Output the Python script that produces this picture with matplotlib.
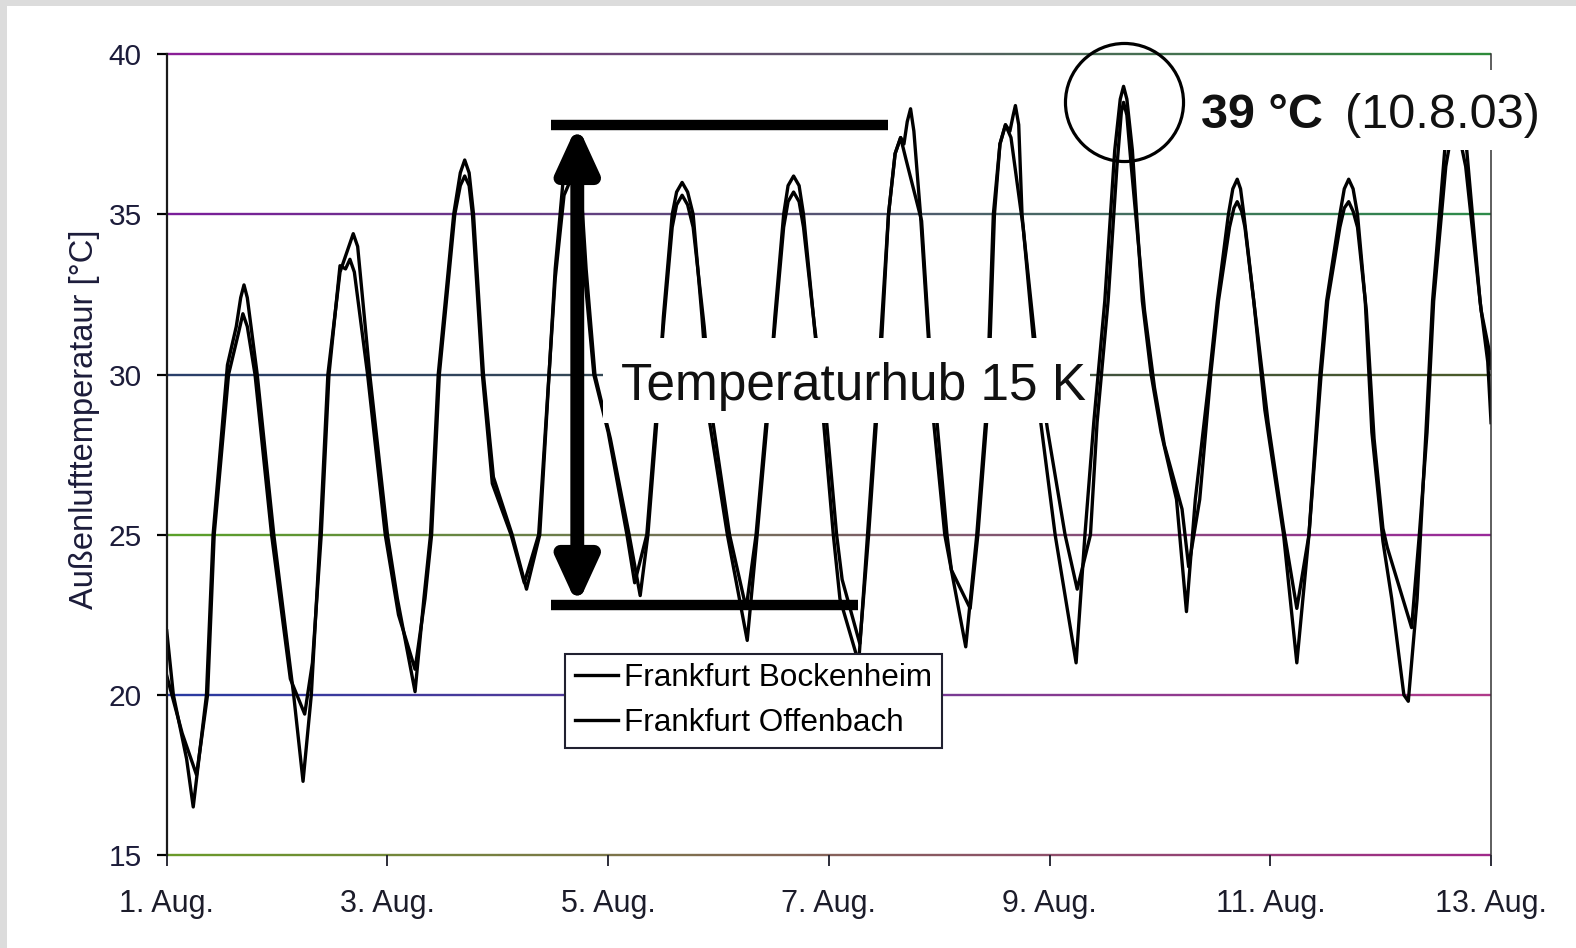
import numpy as np
import matplotlib.pyplot as plt
from matplotlib.collections import LineCollection
from matplotlib.colors import LinearSegmentedColormap
from matplotlib.patches import Rectangle

plt.rcParams['font.family'] = ['Liberation Sans', 'DejaVu Sans']

# time in days since 1 Aug 00:00, temperature in degC
t_bockenheim = [0.00, 0.14, 0.27, 0.37, 0.43, 0.56, 0.65, 0.69, 0.73, 0.80, 0.95, 1.12, 1.25,
                1.32, 1.40, 1.47, 1.57, 1.62, 1.66, 1.70, 1.82, 1.98, 2.10, 2.25,
                2.34, 2.40, 2.47, 2.61, 2.66, 2.70, 2.74, 2.77, 2.86, 2.95, 3.12, 3.24,
                3.37, 3.52, 3.60, 3.65, 3.70, 3.75, 3.79, 3.87, 4.00, 4.17, 4.24,
                4.35, 4.43, 4.50, 4.58, 4.62, 4.67, 4.72, 4.77, 4.87, 4.95, 5.10, 5.25,
                5.34, 5.43, 5.51, 5.59, 5.63, 5.68, 5.73, 5.77, 5.87, 5.98, 6.07, 6.12, 6.28,
                6.36, 6.43, 6.48, 6.54, 6.60, 6.65, 6.70, 6.84, 6.91, 6.98, 7.07, 7.11, 7.28,
                7.35, 7.44, 7.50, 7.55, 7.60, 7.65, 7.76, 7.87, 7.98, 8.14, 8.25,
                8.37, 8.43, 8.53, 8.61, 8.65, 8.67, 8.70, 8.74, 8.86, 8.95, 9.04, 9.20, 9.26,
                9.36, 9.46, 9.53, 9.63, 9.67, 9.70, 9.74, 9.77, 9.86, 9.98, 10.12, 10.24,
                10.35, 10.46, 10.52, 10.63, 10.67, 10.71, 10.75, 10.79, 10.87, 10.94, 11.02, 11.06, 11.28,
                11.35, 11.42, 11.48, 11.59, 11.64, 11.67, 11.71, 11.77, 11.91, 11.98, 12.00]
temp_bockenheim = [20.6, 18.8, 17.5, 20.0, 25.0, 30.0, 31.3, 31.9, 31.5, 30.0, 25.0, 20.5, 19.4,
                   21.0, 25.0, 30.0, 33.4, 33.3, 33.6, 33.2, 30.0, 25.0, 22.5, 20.8,
                   23.0, 25.0, 30.0, 35.0, 35.9, 36.2, 35.9, 35.0, 30.0, 26.6, 25.0, 23.5,
                   25.0, 33.0, 35.6, 36.0, 36.0, 35.5, 33.0, 30.0, 28.2, 25.0, 23.5,
                   25.0, 28.5, 31.5, 34.6, 35.3, 35.6, 35.3, 34.6, 31.5, 28.5, 25.0, 22.7,
                   25.0, 28.5, 31.5, 34.6, 35.4, 35.7, 35.4, 34.6, 31.5, 28.5, 25.0, 23.6, 21.6,
                   25.0, 28.5, 31.2, 35.0, 36.9, 37.4, 36.7, 34.8, 31.0, 28.5, 25.0, 23.9, 22.7,
                   25.0, 29.0, 35.0, 37.2, 37.8, 37.4, 34.6, 31.0, 28.3, 25.0, 23.3,
                   25.0, 28.5, 32.3, 36.5, 38.2, 38.5, 38.1, 36.5, 32.0, 29.6, 27.8, 25.8, 24.0,
                   26.1, 30.0, 32.3, 34.6, 35.2, 35.4, 35.1, 34.6, 32.0, 28.5, 25.2, 22.7,
                   25.0, 30.0, 32.3, 34.6, 35.2, 35.4, 35.1, 34.6, 32.0, 28.0, 25.2, 24.6, 22.1,
                   25.0, 28.2, 32.3, 36.5, 37.5, 37.8, 37.5, 36.5, 32.0, 30.8, 30.2]

t_offenbach = [0.00, 0.06, 0.18, 0.24, 0.36, 0.42, 0.55, 0.63, 0.67, 0.70, 0.73, 0.82, 0.97, 1.15, 1.235,
               1.31, 1.39, 1.46, 1.57, 1.65, 1.69, 1.73, 1.84, 2.00, 2.09, 2.25,
               2.33, 2.39, 2.46, 2.60, 2.66, 2.70, 2.74, 2.78, 2.87, 2.96, 3.13, 3.26,
               3.38, 3.52, 3.59, 3.65, 3.70, 3.75, 3.80, 3.88, 4.02, 4.19, 4.29,
               4.36, 4.44, 4.50, 4.58, 4.62, 4.67, 4.72, 4.77, 4.85, 4.92, 5.08, 5.26,
               5.35, 5.44, 5.51, 5.59, 5.63, 5.68, 5.73, 5.77, 5.86, 5.95, 6.04, 6.10, 6.27,
               6.35, 6.42, 6.47, 6.54, 6.60, 6.65, 6.68, 6.71, 6.74, 6.77, 6.83, 6.90, 6.95, 7.05, 7.24,
               7.34, 7.43, 7.49, 7.55, 7.60, 7.64, 7.67, 7.69, 7.72, 7.75, 7.85, 7.92, 8.05, 8.24,
               8.32, 8.40, 8.50, 8.59, 8.64, 8.67, 8.70, 8.75, 8.84, 8.92, 9.01, 9.15, 9.24,
               9.32, 9.45, 9.52, 9.62, 9.66, 9.70, 9.73, 9.76, 9.85, 9.95, 10.12, 10.24,
               10.35, 10.45, 10.51, 10.63, 10.67, 10.71, 10.75, 10.79, 10.86, 10.92, 11.02, 11.10, 11.21, 11.25,
               11.33, 11.41, 11.47, 11.58, 11.64, 11.68, 11.72, 11.78, 11.90, 11.97, 12.00]
temp_offenbach = [22.0, 20.0, 18.0, 16.5, 20.0, 25.0, 30.3, 31.5, 32.4, 32.8, 32.4, 30.0, 25.0, 20.0, 17.3,
                  20.0, 25.0, 30.0, 33.2, 34.0, 34.4, 34.0, 30.0, 25.0, 23.0, 20.1,
                  23.0, 25.0, 30.0, 35.0, 36.3, 36.7, 36.3, 35.0, 30.0, 26.8, 25.0, 23.3,
                  25.0, 33.3, 36.0, 36.5, 36.6, 36.0, 33.3, 30.0, 28.0, 25.0, 23.1,
                  25.0, 28.5, 31.8, 35.0, 35.7, 36.0, 35.7, 35.0, 31.8, 28.5, 25.0, 21.7,
                  25.0, 28.5, 31.8, 35.0, 35.9, 36.2, 35.9, 35.0, 31.8, 28.6, 25.0, 23.0, 21.0,
                  25.0, 28.5, 31.2, 35.0, 36.9, 37.4, 37.2, 37.9, 38.3, 37.6, 35.0, 31.2, 28.5, 25.0, 21.5,
                  25.0, 29.0, 35.0, 37.2, 37.8, 37.6, 38.1, 38.4, 37.8, 35.0, 31.2, 28.5, 25.0, 21.0,
                  25.0, 28.5, 32.3, 37.0, 38.6, 39.0, 38.6, 37.0, 32.3, 30.0, 28.2, 26.1, 22.6,
                  26.1, 30.0, 32.3, 35.0, 35.8, 36.1, 35.8, 35.0, 32.3, 28.9, 25.0, 21.0,
                  25.0, 30.0, 32.3, 35.0, 35.8, 36.1, 35.8, 35.0, 32.3, 28.2, 24.8, 23.0, 20.0, 19.8,
                  23.0, 28.2, 32.3, 37.0, 38.2, 38.5, 38.2, 37.0, 32.3, 30.4, 28.5]

tick_days = [0, 2, 4, 6, 8, 10, 12]
tick_labels = ['1. Aug.', '3. Aug.', '5. Aug.', '7. Aug.', '9. Aug.', '11. Aug.', '13. Aug.']
y_ticks = [15, 20, 25, 30, 35, 40]

# scanned gridlines shift colour along their length
grid_colors = {
    40: ('#8a1e96', '#2e8b3a'),
    35: ('#7a1e9a', '#2e8b4a'),
    30: ('#2a3f6a', '#4a5a2a'),
    25: ('#5aa02a', '#9a2a9a'),
    20: ('#2a3aa0', '#b03a8a'),
    15: ('#6a9a2a', '#a02a8a'),
}

hub_top = 37.8
hub_bottom = 22.8
hub_x = 3.72

fig = plt.figure(figsize=(15.76, 9.48), dpi=100, facecolor='#dcdcdc')
fig.patches.append(Rectangle((7 / 1576, 0), 1, 1 - 6 / 948, transform=fig.transFigure,
                             facecolor='white', edgecolor='none', zorder=-1))
ax = fig.add_axes([0.1058, 0.0981, 0.8403, 0.8446])
ax.set_facecolor('none')

xs = np.linspace(0, 12, 61)
for y in y_ticks:
    c0, c1 = grid_colors[y]
    cmap = LinearSegmentedColormap.from_list('g', [c0, c1])
    segs = [[(xs[i], y), (xs[i + 1], y)] for i in range(len(xs) - 1)]
    lc = LineCollection(segs, colors=cmap(np.linspace(0, 1, len(segs))),
                        linewidths=1.7, zorder=1, clip_on=False)
    ax.add_collection(lc)

ax.plot(t_bockenheim, temp_bockenheim, color='black', lw=2.4, zorder=2,
        solid_joinstyle='round', label='Frankfurt Bockenheim')
ax.plot(t_offenbach, temp_offenbach, color='black', lw=2.4, zorder=2,
        solid_joinstyle='round', label='Frankfurt Offenbach')

ax.set_xlim(0, 12)
ax.set_ylim(15, 40)
ax.set_xticks(tick_days)
ax.set_xticklabels(tick_labels)
ax.set_yticks(y_ticks)
ax.tick_params(axis='x', direction='out', length=8, width=1.3, pad=16.5,
               labelsize=22, colors='#1c1c2a')
ax.tick_params(axis='y', direction='out', length=7, width=1.6, pad=11,
               labelsize=21.5, labelcolor='#1c1c3a')
for tick, y in zip(ax.yaxis.get_major_ticks(), y_ticks):
    tick.tick1line.set_color(grid_colors[y][0])

for side in ['top', 'bottom']:
    ax.spines[side].set_visible(False)
ax.spines['left'].set_linewidth(1.6)
ax.spines['left'].set_color('#1a1a1a')
ax.spines['right'].set_linewidth(1.1)
ax.spines['right'].set_color('#333333')

fig.text(85 / 1576, 1 - 419 / 948, 'Außenlufttemperataur [°C]', rotation=90,
         ha='center', va='center', fontsize=23.5, color='#1c1c3a')

# temperature swing marker
ax.plot([3.48, 6.54], [hub_top, hub_top], color='black', lw=7.5,
        solid_capstyle='butt', zorder=4)
ax.plot([3.48, 6.26], [hub_bottom, hub_bottom], color='black', lw=7.5,
        solid_capstyle='butt', zorder=4)
ax.annotate('', xy=(hub_x, hub_top), xytext=(hub_x, hub_bottom), zorder=4,
            arrowprops=dict(arrowstyle='<|-|>,head_length=1.2,head_width=0.55',
                            mutation_scale=22, lw=10, color='black',
                            shrinkA=0, shrinkB=0))
ax.add_patch(Rectangle((3.953, 28.49), 8.366 - 3.953, 31.14 - 28.49,
                       facecolor='white', edgecolor='none', zorder=3))
ax.text(4.117, 29.21, f'Temperaturhub {hub_top - hub_bottom:.0f} K', fontsize=37,
        ha='left', va='baseline', color='#111111', zorder=5)

# daily maximum highlight
i_max = int(np.argmax(temp_offenbach))
t_max, v_max = t_offenbach[i_max], temp_offenbach[i_max]
ax.plot([t_max], [v_max - 0.5], marker='o', ms=85, mfc='none', mec='black',
        mew=2.3, zorder=6, clip_on=False)
ax.add_patch(Rectangle((9.227, 37.01), 12.49 - 9.227, 39.51 - 37.01,
                       facecolor='white', edgecolor='none', zorder=3, clip_on=False))
ax.text(9.372, 37.70, f'{v_max:.0f} °C', fontsize=35, fontweight='bold',
        ha='left', va='baseline', color='#111111', zorder=5, clip_on=False)
ax.text(10.68, 37.70, '(10.8.03)', fontsize=35, ha='left', va='baseline',
        color='#111111', zorder=5, clip_on=False)

leg = ax.legend(loc='upper left', bbox_to_anchor=(0.3008, 0.2510), borderaxespad=0,
                fontsize=22.7, frameon=True, fancybox=False, framealpha=1,
                edgecolor='#202030', handlelength=1.38, handletextpad=0.2,
                borderpad=0.3, labelspacing=0.47)
leg.get_frame().set_linewidth(1.5)
for line in leg.get_lines():
    line.set_linewidth(2.4)
leg.set_zorder(7)

fig.savefig('out.png', dpi=100, facecolor=fig.get_facecolor())
